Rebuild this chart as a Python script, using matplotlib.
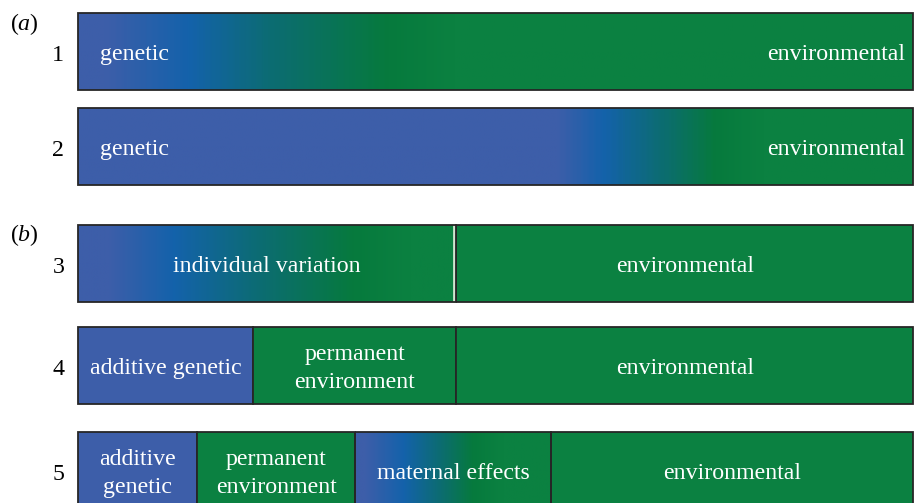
import numpy as np
import matplotlib.pyplot as plt
from matplotlib.colors import LinearSegmentedColormap

plt.rcParams["font.family"] = ["Liberation Serif", "DejaVu Serif"]
plt.rcParams["mathtext.fontset"] = "custom"
plt.rcParams["mathtext.rm"] = "Liberation Serif"
plt.rcParams["mathtext.it"] = "Liberation Serif:italic"

# ---- data: share of variance per component, one list per row ----
row_names = ["1", "2", "3", "4", "5"]
panel_names = ["a", "b"]

row1_widths = [1.0]
row2_widths = [1.0]
row3_widths = [0.453, 0.547]
row4_widths = [0.21, 0.243, 0.547]
row5_widths = [0.143, 0.189, 0.235, 0.433]

row3_labels = ["individual variation", "environmental"]
row4_labels = ["additive genetic", "permanent\nenvironment", "environmental"]
row5_labels = ["additive\ngenetic", "permanent\nenvironment", "maternal effects", "environmental"]

# ---- styling ----
BLUE = "#3D5EA9"
BRIGHT = "#1462AB"
TEAL = "#0C6C72"
DGREEN = "#067A3D"
GREEN = "#0B8141"
EDGE = "#262626"

# gradient stops (position inside segment, colour)
grad_row1 = [(0, BLUE), (0.03, BLUE), (0.13, BRIGHT), (0.23, TEAL), (0.37, DGREEN), (0.45, GREEN), (1, GREEN)]
grad_row2 = [(0, BLUE), (0.575, BLUE), (0.63, BRIGHT), (0.70, TEAL), (0.765, DGREEN), (0.82, GREEN), (1, GREEN)]
grad_row3 = [(0, BLUE), (0.08, BLUE), (0.25, BRIGHT), (0.48, TEAL), (0.73, DGREEN), (0.88, GREEN), (1, GREEN)]
grad_mat = [(0, BLUE), (0.05, BLUE), (0.245, BRIGHT), (0.43, TEAL), (0.6, DGREEN), (0.75, GREEN), (1, GREEN)]

row_y = [51.5, 146.5, 263.5, 365.5, 470.5]
panel_y = [22, 233]
bar_h = 77
fs = 17.2
dy = 3  # text sits a little below bar centre

fig = plt.figure(figsize=(9.14, 5.03), dpi=100)
ax = fig.add_axes([78 / 914, 0, 835 / 914, 1])
ax.set_xlim(0, 1)
ax.set_ylim(503, 0)
ax.axis("off")


def grad_segment(x0, w, y, stops):
    cmap = LinearSegmentedColormap.from_list("g", stops)
    ax.imshow(np.linspace(0, 1, 400)[None, :], cmap=cmap, aspect="auto",
              extent=(x0, x0 + w, y + bar_h / 2, y - bar_h / 2), zorder=1)
    ax.barh(y, w, left=x0, height=bar_h, fill=False, edgecolor=EDGE,
            linewidth=1.3, zorder=3, clip_on=False)


def flat_segment(x0, w, y, color):
    ax.barh(y, w, left=x0, height=bar_h, color=color, edgecolor=EDGE,
            linewidth=1.3, zorder=2, clip_on=False)


def seg_label(x0, w, y, text):
    ax.text(x0 + w / 2, y + dy, text, ha="center", va="center", color="white",
            fontsize=fs, linespacing=1.45, zorder=4)


# rows 1 and 2: one continuous gradient each
for y, widths, stops in [(row_y[0], row1_widths, grad_row1), (row_y[1], row2_widths, grad_row2)]:
    grad_segment(0, widths[0], y, stops)
    ax.text(0.026, y + dy, "genetic", ha="left", va="center", color="white", fontsize=fs, zorder=4)
    ax.text(0.99, y + dy, "environmental", ha="right", va="center", color="white", fontsize=fs, zorder=4)

# row 3
y = row_y[2]
grad_segment(0, row3_widths[0], y, grad_row3)
ax.plot([row3_widths[0] - 0.003] * 2, [y - bar_h / 2 + 1, y + bar_h / 2 - 1],
        color="#cfe6cf", lw=2, zorder=2.5)
flat_segment(row3_widths[0], row3_widths[1], y, GREEN)
left = 0
for w, lab in zip(row3_widths, row3_labels):
    seg_label(left, w, y, lab)
    left += w

# row 4
y = row_y[3]
left = 0
for w, lab, c in zip(row4_widths, row4_labels, [BLUE, GREEN, GREEN]):
    flat_segment(left, w, y, c)
    seg_label(left, w, y, lab)
    left += w

# row 5
y = row_y[4]
left = 0
for i, (w, lab) in enumerate(zip(row5_widths, row5_labels)):
    if i == 2:
        grad_segment(left, w, y, grad_mat)
    else:
        flat_segment(left, w, y, [BLUE, GREEN, None, GREEN][i])
    seg_label(left, w, y, lab)
    left += w

# row numbers and panel letters
for name, y in zip(row_names, row_y):
    ax.text(-0.0165, y + dy + 1, name, ha="right", va="center", fontsize=fs, clip_on=False)
for name, y in zip(panel_names, panel_y):
    ax.text(-0.0815, y + 2, "($\\mathit{%s}$)" % name, ha="left", va="center",
            fontsize=fs, clip_on=False)

fig.savefig("out.png", dpi=100)
